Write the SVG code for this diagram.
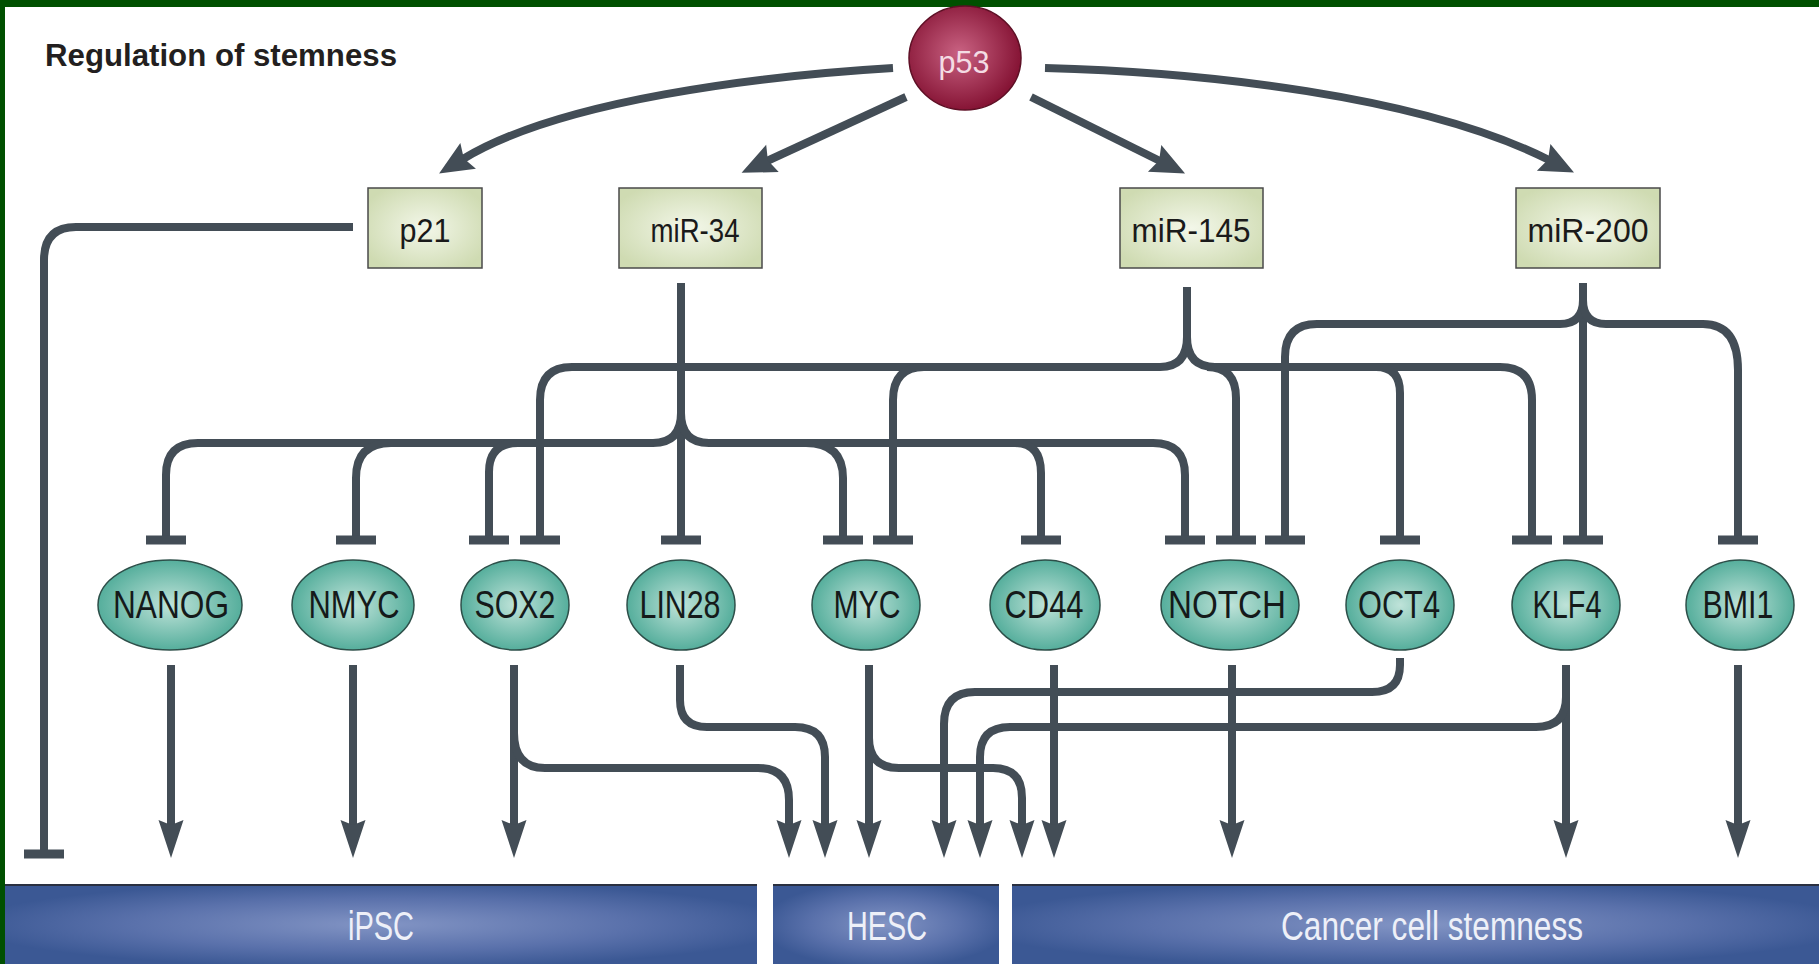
<svg xmlns="http://www.w3.org/2000/svg" width="1819" height="964" viewBox="0 0 1819 964">
<style>
.ln{fill:none;stroke:#434d56;stroke-width:8;stroke-linecap:butt}
.bar{stroke:#434d56;stroke-width:9}
.arr{marker-end:url(#ah)}
.big{marker-end:url(#ahB)}
.rbox{fill:url(#gGreen);stroke:#4a4a4a;stroke-width:1.5}
.ell{fill:url(#gTeal);stroke:#2d4f49;stroke-width:1.5}
.blue{fill:url(#gBlue)}
.btop{stroke:#2a3040;stroke-width:2}
.t{font-family:"Liberation Sans",Arial,sans-serif;text-anchor:middle}
.nt{font-size:38px;fill:#151a1a}
.bt{font-size:33px;fill:#1a1a1a}
.wt{font-size:40px;fill:#eef0f8}
</style>
<defs>
<radialGradient id="gGreen" cx="50%" cy="50%" r="60%">
<stop offset="0" stop-color="#f3f7e9"/>
<stop offset="1" stop-color="#cfdbb2"/>
</radialGradient>
<radialGradient id="gTeal" cx="50%" cy="50%" r="55%">
<stop offset="0" stop-color="#bfe3d9"/>
<stop offset="1" stop-color="#4ba996"/>
</radialGradient>
<radialGradient id="gRed" cx="45%" cy="45%" r="55%">
<stop offset="0" stop-color="#c96282"/>
<stop offset="1" stop-color="#861435"/>
</radialGradient>
<radialGradient id="gBlue" cx="50%" cy="50%" r="55%">
<stop offset="0" stop-color="#8294c4"/>
<stop offset="0.6" stop-color="#5a71ab"/>
<stop offset="1" stop-color="#3b5894"/>
</radialGradient>
<marker id="ah" markerUnits="userSpaceOnUse" viewBox="-10 -20 50 40" refX="0" refY="0" markerWidth="50" markerHeight="40" orient="auto" overflow="visible">
<path d="M-8,-12.5 L30,0 L-8,12.5 L-3,0 Z" fill="#434d56"/>
</marker>
<marker id="ahB" markerUnits="userSpaceOnUse" viewBox="-10 -20 50 40" refX="0" refY="0" markerWidth="50" markerHeight="40" orient="auto" overflow="visible">
<path d="M-6,-15 L28,0 L-6,15 L-1,0 Z" fill="#434d56"/>
</marker>
</defs>

<rect x="0" y="0" width="1819" height="964" fill="#005000"/>
<rect x="5" y="7" width="1814" height="957" fill="#ffffff"/>

<text x="45" y="66" font-family="Liberation Sans, Arial, sans-serif" font-weight="bold" font-size="31" fill="#231f20" textLength="352" lengthAdjust="spacingAndGlyphs">Regulation of stemness</text>

<g id="connectors">
<!-- p53 activations -->
<path class="ln big" d="M893 68 C760 76 560 100 463 159"/>
<path class="ln big" d="M906 97 L767 161"/>
<path class="ln big" d="M1031 97 L1160 161"/>
<path class="ln big" d="M1045 68 C1200 72 1420 95 1549 160"/>
<!-- p21 inhibition -->
<path class="ln" d="M353 227 H76 Q44 227 44 260 V854"/>
<line class="bar" x1="24" y1="854" x2="64" y2="854"/>
<!-- miR-34 -->
<path class="ln" d="M681 283 V540"/>
<path class="ln" d="M681 413 Q681 443 653 443 H198 Q166 443 166 475 V540"/>
<path class="ln" d="M391 443 Q356 443 356 478 V540"/>
<path class="ln" d="M518 443 Q489 443 489 472 V540"/>
<path class="ln" d="M681 413 Q681 443 709 443 H1153 Q1185 443 1185 475 V540"/>
<path class="ln" d="M806 443 Q843 443 843 478 V540"/>
<path class="ln" d="M1015 443 Q1041 443 1041 473 V540"/>
<!-- miR-145 -->
<path class="ln" d="M1187 287 V340"/>
<path class="ln" d="M1187 337 Q1187 367 1160 367 H572 Q540 367 540 400 V540"/>
<path class="ln" d="M924 367 Q893 367 893 400 V540"/>
<path class="ln" d="M1187 337 Q1187 367 1215 367 H1500 Q1532 367 1532 400 V540"/>
<path class="ln" d="M1207 367 Q1236 367 1236 398 V540"/>
<path class="ln" d="M1376 367 Q1400 367 1400 393 V540"/>
<!-- miR-200 -->
<path class="ln" d="M1583 283 V540"/>
<path class="ln" d="M1583 300 Q1583 324 1560 324 H1317 Q1285 324 1285 357 V540"/>
<path class="ln" d="M1583 300 Q1583 324 1606 324 H1703 Q1738 324 1738 370 V540"/>
<!-- inhibition bars -->
<line class="bar" x1="146" y1="540" x2="186" y2="540"/>
<line class="bar" x1="336" y1="540" x2="376" y2="540"/>
<line class="bar" x1="469" y1="540" x2="509" y2="540"/>
<line class="bar" x1="520" y1="540" x2="560" y2="540"/>
<line class="bar" x1="661" y1="540" x2="701" y2="540"/>
<line class="bar" x1="823" y1="540" x2="863" y2="540"/>
<line class="bar" x1="873" y1="540" x2="913" y2="540"/>
<line class="bar" x1="1021" y1="540" x2="1061" y2="540"/>
<line class="bar" x1="1165" y1="540" x2="1205" y2="540"/>
<line class="bar" x1="1216" y1="540" x2="1256" y2="540"/>
<line class="bar" x1="1265" y1="540" x2="1305" y2="540"/>
<line class="bar" x1="1380" y1="540" x2="1420" y2="540"/>
<line class="bar" x1="1512" y1="540" x2="1552" y2="540"/>
<line class="bar" x1="1563" y1="540" x2="1603" y2="540"/>
<line class="bar" x1="1718" y1="540" x2="1758" y2="540"/>
<!-- bottom activations -->
<path class="ln arr" d="M171 665 V828"/>
<path class="ln arr" d="M353 665 V828"/>
<path class="ln arr" d="M514 665 V828"/>
<path class="ln arr" d="M514 733 Q514 768 545 768 H758 Q789 768 789 800 V828"/>
<path class="ln arr" d="M680 665 V700 Q680 727 707 727 H795 Q825 727 825 757 V828"/>
<path class="ln arr" d="M869 665 V828"/>
<path class="ln arr" d="M869 738 Q869 768 899 768 H993 Q1022 768 1022 798 V828"/>
<path class="ln arr" d="M1054 665 V828"/>
<path class="ln arr" d="M1232 665 V828"/>
<path class="ln arr" d="M1400 658 V665 Q1400 692 1372 692 H975 Q944 692 944 724 V828"/>
<path class="ln arr" d="M1566 665 V828"/>
<path class="ln arr" d="M1566 697 Q1566 727 1536 727 H1010 Q980 727 980 757 V828"/>
<path class="ln arr" d="M1738 665 V828"/>
</g>

<g id="p53">
<ellipse cx="965" cy="58" rx="56" ry="52" fill="url(#gRed)" stroke="#5e0f25" stroke-width="1.5"/>
<text class="t" x="964" y="73" font-size="31" fill="#f4dce4" textLength="51" lengthAdjust="spacingAndGlyphs">p53</text>
</g>

<g id="p21">
<rect class="rbox" x="368" y="188" width="114" height="80"/>
<text class="t bt" x="425" y="242" textLength="51" lengthAdjust="spacingAndGlyphs">p21</text>
</g>
<g id="miR-34">
<rect class="rbox" x="619" y="188" width="143" height="80"/>
<text class="t bt" x="695" y="242" textLength="89" lengthAdjust="spacingAndGlyphs">miR-34</text>
</g>
<g id="miR-145">
<rect class="rbox" x="1120" y="188" width="143" height="80"/>
<text class="t bt" x="1191" y="242" textLength="119" lengthAdjust="spacingAndGlyphs">miR-145</text>
</g>
<g id="miR-200">
<rect class="rbox" x="1516" y="188" width="144" height="80"/>
<text class="t bt" x="1588" y="242" textLength="121" lengthAdjust="spacingAndGlyphs">miR-200</text>
</g>

<g id="NANOG">
<ellipse class="ell" cx="170" cy="605" rx="72" ry="45"/>
<text class="t nt" x="171" y="618" textLength="116" lengthAdjust="spacingAndGlyphs">NANOG</text>
</g>
<g id="NMYC">
<ellipse class="ell" cx="353" cy="605" rx="61" ry="45"/>
<text class="t nt" x="354" y="618" textLength="91" lengthAdjust="spacingAndGlyphs">NMYC</text>
</g>
<g id="SOX2">
<ellipse class="ell" cx="515" cy="605" rx="54" ry="45"/>
<text class="t nt" x="515" y="618" textLength="81" lengthAdjust="spacingAndGlyphs">SOX2</text>
</g>
<g id="LIN28">
<ellipse class="ell" cx="681" cy="605" rx="54" ry="45"/>
<text class="t nt" x="680" y="618" textLength="81" lengthAdjust="spacingAndGlyphs">LIN28</text>
</g>
<g id="MYC">
<ellipse class="ell" cx="866" cy="605" rx="54" ry="45"/>
<text class="t nt" x="867" y="618" textLength="67" lengthAdjust="spacingAndGlyphs">MYC</text>
</g>
<g id="CD44">
<ellipse class="ell" cx="1045" cy="605" rx="55" ry="45"/>
<text class="t nt" x="1044" y="618" textLength="79" lengthAdjust="spacingAndGlyphs">CD44</text>
</g>
<g id="NOTCH">
<ellipse class="ell" cx="1230" cy="605" rx="69" ry="45"/>
<text class="t nt" x="1227" y="618" textLength="118" lengthAdjust="spacingAndGlyphs">NOTCH</text>
</g>
<g id="OCT4">
<ellipse class="ell" cx="1400" cy="605" rx="54" ry="45"/>
<text class="t nt" x="1399" y="618" textLength="82" lengthAdjust="spacingAndGlyphs">OCT4</text>
</g>
<g id="KLF4">
<ellipse class="ell" cx="1566" cy="605" rx="54" ry="45"/>
<text class="t nt" x="1567" y="618" textLength="69" lengthAdjust="spacingAndGlyphs">KLF4</text>
</g>
<g id="BMI1">
<ellipse class="ell" cx="1740" cy="605" rx="54" ry="45"/>
<text class="t nt" x="1738" y="618" textLength="71" lengthAdjust="spacingAndGlyphs">BMI1</text>
</g>

<g id="iPSC">
<rect class="blue" x="5" y="885" width="752" height="79"/>
<line class="btop" x1="5" y1="885" x2="757" y2="885"/>
<text class="t wt" x="381" y="940" textLength="66" lengthAdjust="spacingAndGlyphs">iPSC</text>
</g>
<g id="HESC">
<rect class="blue" x="773" y="885" width="226" height="79"/>
<line class="btop" x1="773" y1="885" x2="999" y2="885"/>
<text class="t wt" x="887" y="940" textLength="80" lengthAdjust="spacingAndGlyphs">HESC</text>
</g>
<g id="Cancer">
<rect class="blue" x="1012" y="885" width="807" height="79"/>
<line class="btop" x1="1012" y1="885" x2="1819" y2="885"/>
<text class="t wt" x="1432" y="940" textLength="302" lengthAdjust="spacingAndGlyphs">Cancer cell stemness</text>
</g>
</svg>
